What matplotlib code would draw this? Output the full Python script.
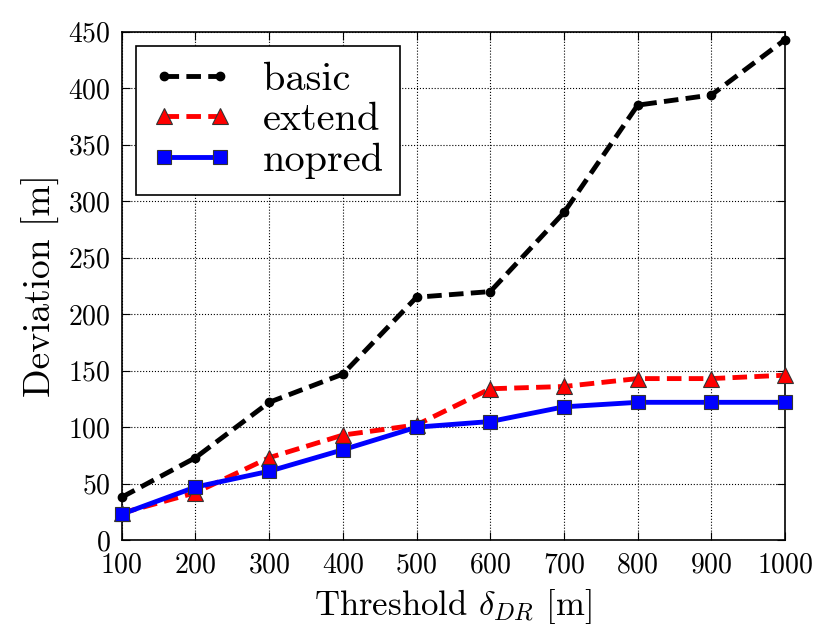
import matplotlib
matplotlib.use("Agg")
import matplotlib.pyplot as plt

plt.rcParams['font.family'] = 'serif'
plt.rcParams['font.serif'] = ['cmr10']
plt.rcParams['mathtext.fontset'] = 'cm'
plt.rcParams['axes.formatter.use_mathtext'] = True

threshold = [100, 200, 300, 400, 500, 600, 700, 800, 900, 1000]
basic = [38, 73, 122, 147, 215, 220, 290, 385, 394, 443]
extend = [24, 42, 73, 93, 102, 134, 136, 143, 143, 146]
nopred = [23, 47, 61, 80, 100, 105, 118, 122, 122, 122]

fig = plt.figure(figsize=(8.17, 6.34), dpi=100)
ax = fig.add_axes([0.149, 0.148, 0.812, 0.802])

ax.plot(threshold, basic, 'k--', marker='o', markersize=6, linewidth=3.5,
        dashes=(3, 1.5), label="basic", clip_on=False, zorder=3)
ax.plot(threshold, extend, 'r--', marker='^', markersize=11, linewidth=3.5,
        dashes=(3, 1.5), markeredgecolor='#333333', markeredgewidth=0.8,
        label="extend", clip_on=False, zorder=3)
ax.plot(threshold, nopred, color='blue', marker='s', markersize=9.5, linewidth=3.5,
        markeredgecolor='#333333', markeredgewidth=0.8,
        label="nopred", clip_on=False, zorder=4)

ax.set_xlim(100, 1000)
ax.set_ylim(0, 450)
ax.set_xticks(threshold)
ax.set_yticks(range(0, 451, 50))
ax.tick_params(direction='in', labelsize=20, length=6, top=True, right=True)
ax.tick_params(axis='x', pad=9)
ax.tick_params(axis='y', pad=8)
ax.grid(True, linestyle=':', color='black', linewidth=0.8)
for s in ax.spines.values():
    s.set_linewidth(1.2)

ax.set_xlabel(r"Threshold $\delta_{DR}$ [m]", fontsize=25, labelpad=6)
ax.set_ylabel("Deviation [m]", fontsize=27, labelpad=6)

leg = ax.legend(loc='upper left', fontsize=29, numpoints=2, fancybox=False,
                framealpha=1, edgecolor='black', handlelength=2.0,
                borderpad=0.4, labelspacing=0.1, handletextpad=0.75,
                borderaxespad=0.35)
leg.get_frame().set_linewidth(1.2)

fig.savefig("out.png", dpi=100)
